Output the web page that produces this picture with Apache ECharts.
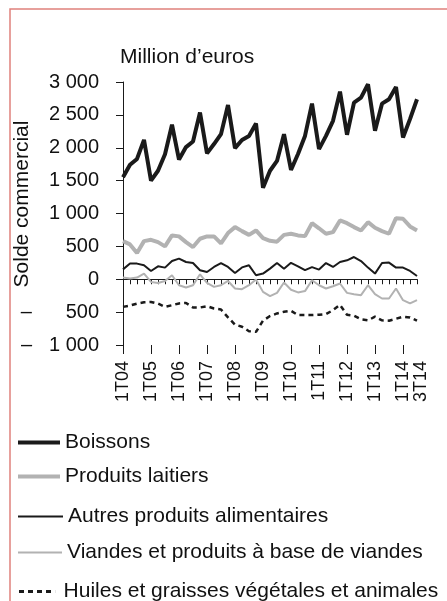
<!DOCTYPE html>
<html>
<head>
<meta charset="utf-8">
<script src="https://cdn.jsdelivr.net/npm/echarts@6/dist/echarts.min.js"></script>
<style>
  html, body { margin: 0; padding: 0; background: #fff; }
  #chart { width: 447px; height: 601px; }
</style>
</head>
<body>
<div id="chart"></div>
<script>
// Trimestres 1T04 .. 3T14
const quarters = [];
for (let y = 4; y <= 14; y++) {
    for (let q = 1; q <= 4; q++) {
        if (y === 14 && q === 4) break;
        quarters.push(q + 'T' + (y < 10 ? '0' + y : y));
    }
}

// Solde commercial, millions d'euros
const boissons = [
    1550, 1740, 1830, 2120, 1500, 1650, 1900, 2350, 1820, 2010, 2095, 2535,
    1914, 2056, 2207, 2650, 1995, 2117, 2180, 2368, 1390, 1650, 1800, 2207,
    1662, 1905, 2180, 2671, 1980, 2180, 2410, 2853, 2197, 2686, 2762, 2965,
    2258, 2671, 2738, 2924, 2156, 2435, 2738
];
const produitsLaitiers = [
    580, 530, 400, 580, 600, 565, 500, 667, 652, 565, 490, 616,
    652, 652, 545, 702, 793, 732, 675, 742, 625, 585, 572, 675,
    692, 667, 656, 853, 775, 692, 717, 894, 853, 793, 742, 868,
    783, 732, 692, 929, 920, 803, 742
];
const autresProduits = [
    150, 238, 238, 212, 126, 197, 177, 277, 313, 262, 247, 136,
    111, 187, 247, 187, 96, 180, 212, 61, 86, 162, 247, 160,
    250, 197, 138, 185, 147, 247, 187, 262, 288, 338, 277, 177,
    86, 247, 253, 177, 177, 126, 50
];
const viandes = [
    26, 10, 26, 86, -41, -56, -26, 61, -91, -126, -91, 76,
    -56, -116, -91, -26, -141, -151, -91, -5, -192, -258, -207, -50,
    -160, -200, -180, -15, -91, -141, -106, -65, -207, -227, -242, -91,
    -227, -293, -293, -141, -318, -368, -318
];
const huiles = [
    -420, -400, -370, -350, -345, -370, -420, -395, -368, -360, -430, -430,
    -409, -444, -460, -580, -690, -722, -790, -800, -630, -560, -520, -495,
    -480, -545, -545, -545, -540, -530, -470, -390, -540, -555, -610, -625,
    -570, -625, -630, -600, -570, -580, -630
];

const seriesNames = [
    'Boissons',
    'Produits laitiers',
    'Autres produits alimentaires',
    'Viandes et produits à base de viandes',
    'Huiles et graisses végétales et animales'
];

const FONT = 'Liberation Sans, Arial, sans-serif';
const BLACK = '#1a1a1a';
const GREY = '#b2b2b2';
const LAST = quarters.length - 1;

function thousands(a) {
    return a >= 1000 ? Math.floor(a / 1000) + ' ' + String(a % 1000).padStart(3, '0') : String(a);
}

// le signe moins est aligné à gauche, le nombre à droite
function formatValue(v) {
    if (v >= 0) return thousands(v);
    const s = thousands(-v);
    return (s.length > 3 ? '{m1|\u2013}' : '{m5|\u2013}') + '{n|' + s + '}';
}

const chart = echarts.init(document.getElementById('chart'), null, { renderer: 'canvas' });

const baseX = {
    type: 'category',
    data: quarters,
    boundaryGap: false,
    position: 'bottom',
    gridIndex: 0,
    splitLine: { show: false }
};

const xLabel = {
    rotate: 90,
    margin: 16,
    fontFamily: FONT,
    fontSize: 18,
    color: '#111'
};

// une légende par ligne, positions
const legendRows = [
    { left: 18, top: 432, w: 42, h: 4, icon: 'rect' },
    { left: 18, top: 466, w: 42, h: 4, icon: 'rect' },
    { left: 18, top: 506, w: 45, h: 2, icon: 'rect' },
    { left: 18, top: 542, w: 44, h: 2, icon: 'rect' },
    { left: 19, top: 581, w: 43, h: 3, icon: 'path://M0,0h5v3h-5z M9,0h5v3h-5z M18,0h5v3h-5z M27,0h5v3h-5z M36,0h0.1v3h-0.1z' }
];

const option = {
    animation: false,
    backgroundColor: '#fff',
    textStyle: { fontFamily: FONT },
    title: {
        text: 'Million d\u2019euros',
        left: 120,
        top: 47,
        padding: 0,
        textStyle: { fontFamily: FONT, fontSize: 21, fontWeight: 'normal', color: '#111' }
    },
    graphic: [{
        type: 'rect',
        shape: { x: 10, y: 9, width: 600, height: 700 },
        style: { fill: 'none', stroke: '#e0817c', lineWidth: 1.5 },
        silent: true
    }],
    legend: legendRows.map((r, i) => ({
        data: [{ name: seriesNames[i], icon: r.icon }],
        left: r.left,
        top: r.top,
        padding: 0,
        itemWidth: r.w,
        itemHeight: r.h,
        selectedMode: false,
        textStyle: { fontFamily: FONT, fontSize: 21, color: '#111' }
    })),
    grid: {
        left: 123,
        right: 30,
        top: 82,
        bottom: 256,
        containLabel: false,
        outerBoundsMode: 'none'
    },
    xAxis: [
        // étiquettes des premiers trimestres
        Object.assign({}, baseX, {
            axisLine: { show: false, onZero: false },
            axisTick: { show: false },
            axisLabel: Object.assign({ interval: (i) => i % 4 === 0 }, xLabel)
        }),
        // étiquette du dernier trimestre (3T14), décalée à droite par une ligne vide
        Object.assign({}, baseX, {
            axisLine: { show: false, onZero: false },
            axisTick: { show: false },
            axisLabel: Object.assign({}, xLabel, {
                interval: (i) => i === LAST,
                formatter: (v) => '{s| }\n{t|' + v + '}',
                rich: {
                    s: { fontSize: 1, lineHeight: 8 },
                    t: { fontFamily: FONT, fontSize: 18, lineHeight: 18, color: '#111' }
                }
            })
        }),
        // axe sur zéro, petites graduations trimestrielles
        Object.assign({}, baseX, {
            axisLine: { show: true, onZero: true, lineStyle: { color: BLACK, width: 1 } },
            axisTick: { show: true, interval: 0, length: 5, lineStyle: { color: BLACK } },
            axisLabel: { show: false }
        }),
        // grandes graduations annuelles
        Object.assign({}, baseX, {
            axisLine: { show: false, onZero: true },
            axisTick: { show: true, interval: (i) => i % 4 === 0, length: 9, lineStyle: { color: BLACK } },
            axisLabel: { show: false }
        })
    ],
    yAxis: {
        type: 'value',
        min: -1000,
        max: 3000,
        interval: 500,
        name: 'Solde commercial',
        nameLocation: 'middle',
        nameRotate: 90,
        nameGap: 90,
        nameMoveOverlap: false,
        nameTextStyle: { fontFamily: FONT, fontSize: 21, color: '#111', padding: [0, 0, 0, 19] },
        axisLine: { show: true, lineStyle: { color: BLACK, width: 1 } },
        axisTick: { show: true, length: 7, lineStyle: { color: BLACK } },
        splitLine: { show: false },
        axisLabel: {
            margin: 24,
            formatter: formatValue,
            fontFamily: FONT,
            fontSize: 20,
            color: '#111',
            rich: {
                m1: { fontFamily: FONT, fontSize: 20, color: '#111', width: 28, align: 'left' },
                m5: { fontFamily: FONT, fontSize: 20, color: '#111', width: 45, align: 'left' },
                n: { fontFamily: FONT, fontSize: 20, color: '#111' }
            }
        }
    },
    series: [
        { name: seriesNames[0], data: boissons, lineStyle: { color: BLACK, width: 4 } },
        { name: seriesNames[1], data: produitsLaitiers, lineStyle: { color: GREY, width: 4 } },
        { name: seriesNames[2], data: autresProduits, lineStyle: { color: BLACK, width: 2 } },
        { name: seriesNames[3], data: viandes, lineStyle: { color: GREY, width: 2 } },
        { name: seriesNames[4], data: huiles, lineStyle: { color: BLACK, width: 2.5, type: [5, 4] } }
    ].map(s => Object.assign({
        type: 'line',
        xAxisIndex: 0,
        symbol: 'none',
        silent: true,
        itemStyle: { color: s.lineStyle.color }
    }, s))
};

chart.setOption(option);
</script>
</body>
</html>
